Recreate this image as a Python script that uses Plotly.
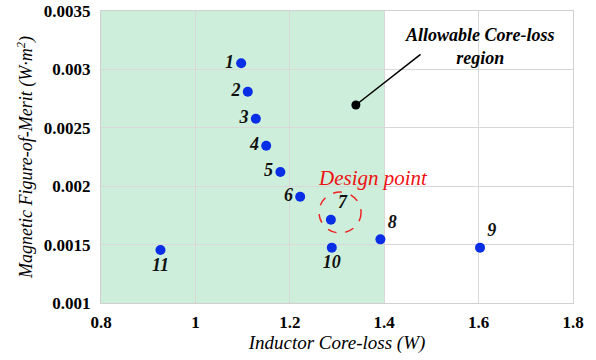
import plotly.graph_objects as go

# Data
labels = ["1", "2", "3", "4", "5", "6", "7", "8", "9", "10", "11"]
core_loss = [1.097, 1.111, 1.128, 1.150, 1.180, 1.222, 1.287, 1.392, 1.603, 1.289, 0.926]
fom = [0.003052, 0.002809, 0.002578, 0.002347, 0.002122, 0.001910, 0.001713,
       0.001545, 0.001474, 0.001474, 0.001454]
label_pos = ["middle left"] * 6 + ["top right", "top right", "top right",
                                   "bottom center", "bottom center"]
allowable_max = 1.4
x_ticks = [0.8, 1.0, 1.2, 1.4, 1.6, 1.8]
x_tick_text = ["0.8", "1", "1.2", "1.4", "1.6", "1.8"]
y_ticks = [0.001, 0.0015, 0.002, 0.0025, 0.003, 0.0035]
y_tick_text = ["0.001", "0.0015", "0.002", "0.0025", "0.003", "0.0035"]

FONT = "Liberation Serif, Times New Roman, serif"

fig = go.Figure()

fig.add_trace(go.Scatter(
    x=core_loss, y=fom, mode="markers+text",
    text=[f"<i><b>{t}</b></i>" for t in labels],
    textposition=label_pos,
    textfont=dict(family=FONT, size=18, color="#111111"),
    marker=dict(size=10, color="#0a2ee6"),
    cliponaxis=False, showlegend=False,
))

# arrow dot
fig.add_trace(go.Scatter(
    x=[1.340], y=[0.002695], mode="markers",
    marker=dict(size=9, color="black"), showlegend=False,
))

fig.add_shape(type="rect", xref="x", yref="y", x0=0.8, x1=allowable_max,
              y0=0.001, y1=0.0035, fillcolor="#cdeedb", line_width=0, layer="below")
fig.add_shape(type="line", xref="x", yref="y", x0=1.340, y0=0.002695,
              x1=1.477, y1=0.003129, line=dict(color="black", width=1.5))
fig.add_shape(type="circle", xref="x", yref="y", x0=1.262, x1=1.351,
              y0=0.00160, y1=0.00195, line=dict(color="#ee2222", width=1.5, dash="dash"))

fig.add_annotation(x=1.603, y=0.00320, xref="x", yref="y",
                   text="<b><i>Allowable Core-loss<br>region</i></b>", showarrow=False,
                   font=dict(family=FONT, size=18, color="black"))
fig.add_annotation(x=1.376, y=0.00207, xref="x", yref="y",
                   text="<i>Design point</i>", showarrow=False,
                   font=dict(family=FONT, size=21, color="#ee1111"))
fig.add_annotation(x=-0.159, y=0.5, xref="paper", yref="paper", xanchor="center", yanchor="middle",
                   text="<i>Magnetic Figure-of-Merit (W·m<sup>2</sup>)</i>", showarrow=False,
                   textangle=-90, font=dict(family=FONT, size=18, color="black"))

fig.update_layout(
    width=596, height=360,
    margin=dict(l=101, r=23, t=11, b=57),
    paper_bgcolor="white", plot_bgcolor="white",
    font=dict(family=FONT, color="black"),
)
fig.update_xaxes(
    range=[0.8, 1.8], tickvals=x_ticks, ticktext=x_tick_text,
    tickfont=dict(family=FONT, size=17, weight="bold"),
    showgrid=True, gridcolor="#d8d8d8", gridwidth=1,
    showline=True, linecolor="#d0d0d0", mirror=True, zeroline=False,
    ticks="", ticklabelstandoff=4, automargin=False,
    title=dict(text="<i>Inductor Core-loss (W)</i>", font=dict(family=FONT, size=19), standoff=4),
)
fig.update_yaxes(
    range=[0.001, 0.0035], tickvals=y_ticks, ticktext=y_tick_text,
    tickfont=dict(family=FONT, size=17, weight="bold"),
    showgrid=True, gridcolor="#d8d8d8", gridwidth=1,
    showline=True, linecolor="#d0d0d0", mirror=True, zeroline=False,
    ticks="", ticklabelstandoff=6, automargin=False, ticklabeloverflow="allow",
)

# remove the default 8px page margin so the 596x360 figure fills the window
fig.write_html("out.html", config={"displayModeBar": False},
               post_script="document.body.style.margin='0px';")
